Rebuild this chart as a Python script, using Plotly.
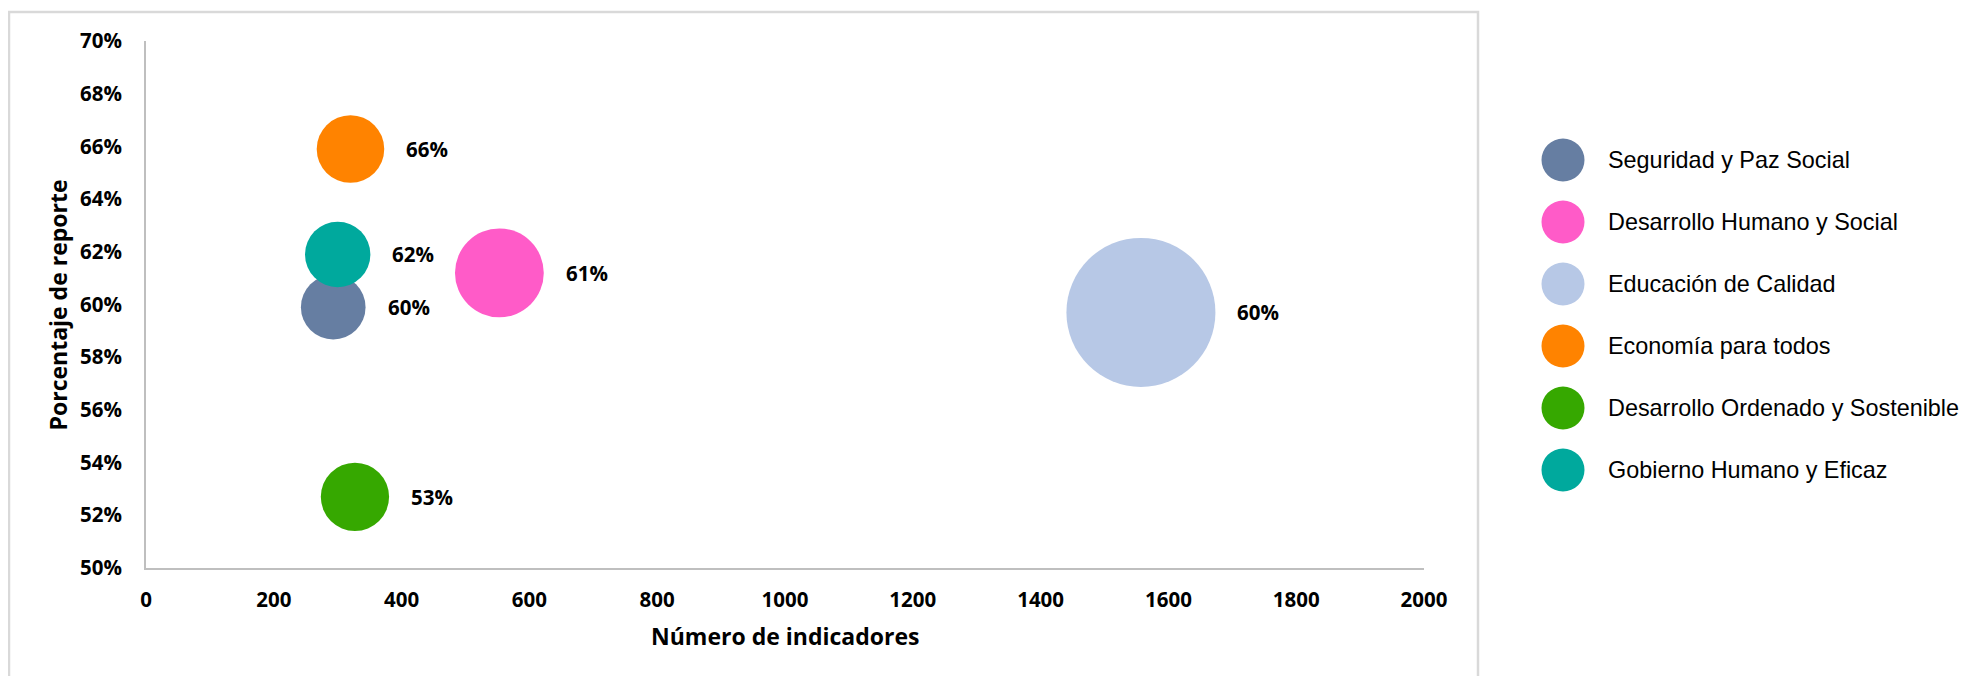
import math
import plotly.graph_objects as go

# ---------------- data ----------------
categories = [
    "Seguridad y Paz Social",
    "Desarrollo Humano y Social",
    "Educación de Calidad",
    "Economía para todos",
    "Desarrollo Ordenado y Sostenible",
    "Gobierno Humano y Eficaz",
]
num_indicadores = [293, 553, 1557, 320, 327, 300]
porcentaje_reporte = [0.599, 0.612, 0.597, 0.659, 0.527, 0.619]
colors = ["#667EA2", "#FF5BC8", "#B7C8E6", "#FF8300", "#36A800", "#00A99D"]
x_ticks = [0, 200, 400, 600, 800, 1000, 1200, 1400, 1600, 1800, 2000]
y_ticks = [0.50, 0.52, 0.54, 0.56, 0.58, 0.60, 0.62, 0.64, 0.66, 0.68, 0.70]
x_title = "Número de indicadores"
y_title = "Porcentaje de reporte"

# ---------------- layout geometry (page pixels) ----------------
PAGE_W, PAGE_H = 1977, 684
OFF = 8                                  # default body margin of the html page
W, H = PAGE_W - 2 * OFF, PAGE_H - 2 * OFF
PL, PR, PT, PB = 146, 1424, 41, 568     # plot area in page pixels
D_MAX = 149                              # diameter of largest bubble

def px_x(p):
    return (p - PL) / (PR - PL)

def px_y(p):
    return (PB - p) / (PB - PT)

TICK_FONT = dict(family="Open Sans", size=20.5, color="#000000", weight="bold")
TITLE_FONT = dict(family="Open Sans", size=23, color="#000000", weight="bold")
LEG_FONT = dict(family="Liberation Sans, Arial", size=23.4, color="#000000")

vmax = max(num_indicadores)
diams = [D_MAX * math.sqrt(v / vmax) for v in num_indicadores]

fig = go.Figure()
for cat, xv, yv, c, d in zip(categories, num_indicadores, porcentaje_reporte, colors, diams):
    fig.add_trace(go.Scatter(
        x=[xv], y=[yv], mode="markers", name=cat, showlegend=False,
        marker=dict(size=[d], sizemode="diameter", color=c, opacity=1, line=dict(width=0)),
        cliponaxis=False,
    ))
    fig.add_annotation(
        x=xv, y=yv, xref="x", yref="y", text=f"{yv:.0%}", showarrow=False,
        xanchor="left", yanchor="middle", xshift=d / 2 + 20, font=TICK_FONT,
    )

# custom legend with large circles
LEG_X = 1563
LEG_TXT_X = 1606
LEG_Y0, LEG_DY, LEG_D = 160, 62, 43
for i, (cat, c) in enumerate(zip(categories, colors)):
    yc = LEG_Y0 + i * LEG_DY
    fig.add_shape(
        type="circle", xref="paper", yref="paper",
        xsizemode="pixel", ysizemode="pixel",
        xanchor=px_x(LEG_X), yanchor=px_y(yc),
        x0=-LEG_D / 2, x1=LEG_D / 2, y0=-LEG_D / 2, y1=LEG_D / 2,
        fillcolor=c, line=dict(width=0), layer="above",
    )
    fig.add_annotation(
        x=px_x(LEG_TXT_X), y=px_y(yc), xref="paper", yref="paper",
        text=cat, showarrow=False, xanchor="left", yanchor="middle", font=LEG_FONT,
    )

# chart border (light gray, open at the bottom)
fig.add_shape(
    type="rect", xref="paper", yref="paper",
    x0=px_x(9), x1=px_x(1478), y0=px_y(760), y1=px_y(12),
    line=dict(color="#D9D9D9", width=2.5), fillcolor="rgba(0,0,0,0)", layer="below",
)

# axis titles
fig.add_annotation(
    x=0.5, y=px_y(636), xref="paper", yref="paper", text=x_title, showarrow=False,
    xanchor="center", yanchor="middle", font=TITLE_FONT,
)
fig.add_annotation(
    x=px_x(57), y=0.5, xref="paper", yref="paper", text=y_title, showarrow=False,
    xanchor="center", yanchor="middle", textangle=-90, font=TITLE_FONT,
)

fig.update_layout(
    width=W, height=H,
    margin=dict(l=PL - OFF, r=(OFF + W) - PR, t=PT - OFF, b=(OFF + H) - PB, autoexpand=False),
    paper_bgcolor="white", plot_bgcolor="white",
    showlegend=False,
    xaxis=dict(
        range=[0, 2000], tickvals=x_ticks, ticktext=[str(t) for t in x_ticks],
        showgrid=False, zeroline=False, showline=True, linecolor="#BFBFBF", linewidth=2,
        ticks="", tickfont=TICK_FONT, ticklabelstandoff=12, fixedrange=True,
    ),
    yaxis=dict(
        range=[0.50, 0.70], tickvals=y_ticks, tickformat=".0%",
        showgrid=False, zeroline=False, showline=True, linecolor="#BFBFBF", linewidth=2,
        ticks="", tickfont=TICK_FONT, ticklabelstandoff=18, fixedrange=True,
    ),
)

fig.write_html("out.html")
